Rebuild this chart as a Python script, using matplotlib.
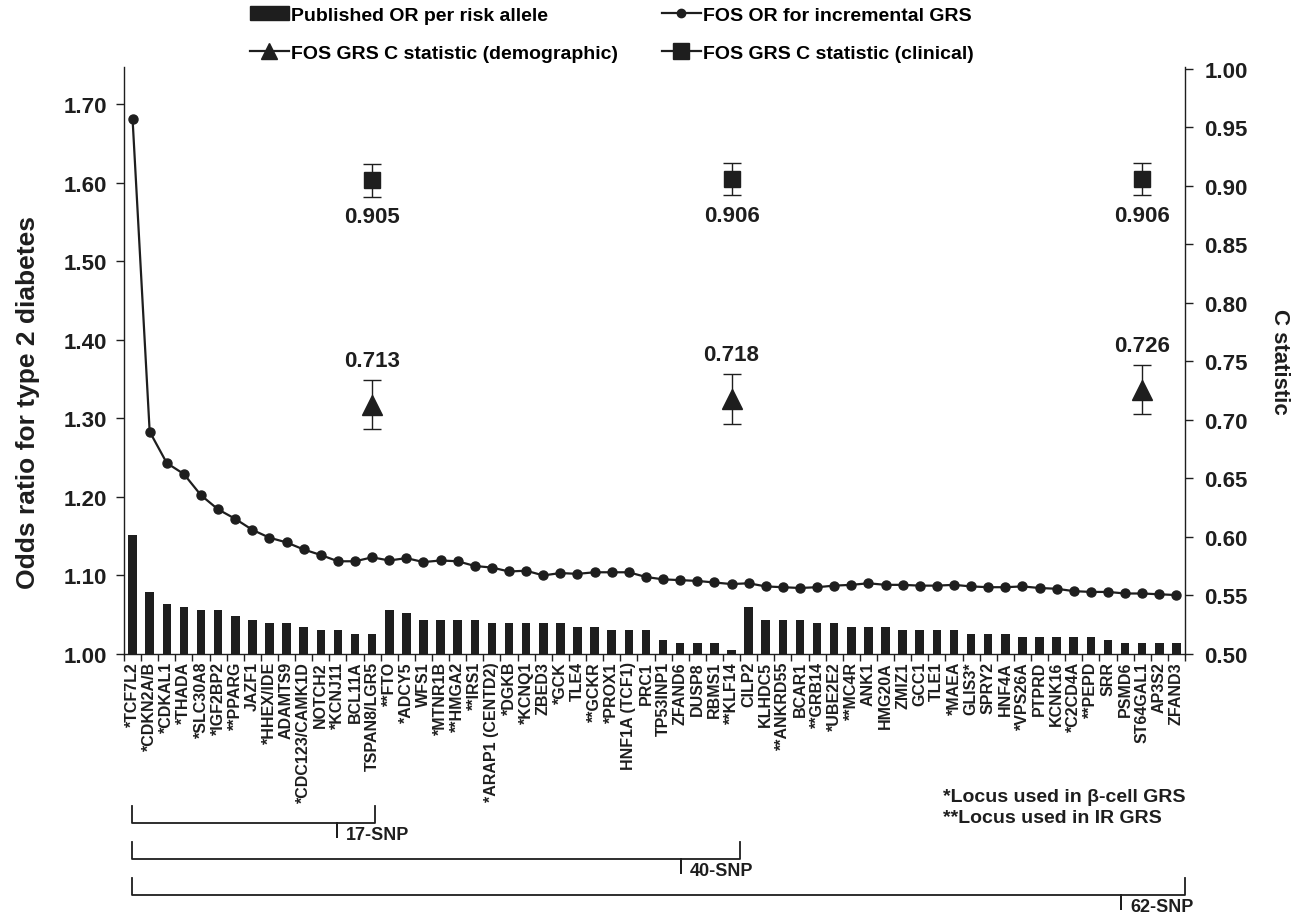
import numpy as np
import matplotlib
matplotlib.use("Agg")
import matplotlib.pyplot as plt
from matplotlib.lines import Line2D
from matplotlib.patches import Patch

plt.rcParams['font.family'] = ['Liberation Sans', 'DejaVu Sans']
plt.rcParams['font.weight'] = 'bold'
INK = '#1e1e1e'

# =========================================================
# DATA - loci ordered by published effect size
loci = ['*TCF7L2', '*CDKN2A/B', '*CDKAL1', '*THADA', '*SLC30A8', '*IGF2BP2', '**PPARG',
        'JAZF1', '*HHEX/IDE', 'ADAMTS9', '*CDC123/CAMK1D', 'NOTCH2', '*KCNJ11', 'BCL11A',
        'TSPAN8/LGR5', '**FTO', '*ADCY5', 'WFS1', '*MTNR1B', '**HMGA2', '**IRS1',
        '*ARAP1 (CENTD2)', '*DGKB', '*KCNQ1', 'ZBED3', '*GCK', 'TLE4', '**GCKR', '*PROX1',
        'HNF1A (TCF1)', 'PRC1', 'TP53INP1', 'ZFAND6', 'DUSP8', 'RBMS1', '**KLF14', 'CILP2',
        'KLHDC5', '**ANKRD55', 'BCAR1', '**GRB14', '*UBE2E2', '**MC4R', 'ANK1', 'HMG20A',
        'ZMIZ1', 'GCC1', 'TLE1', '*MAEA', 'GLIS3*', 'SPRY2', 'HNF4A', '*VPS26A', 'PTPRD',
        'KCNK16', '*C2CD4A', '**PEPD', 'SRR', 'PSMD6', 'ST64GAL1', 'AP3S2', 'ZFAND3']

published_or = [1.151, 1.079, 1.064, 1.060, 1.056, 1.056, 1.048, 1.043, 1.039, 1.039,
                1.034, 1.030, 1.030, 1.026, 1.026, 1.056, 1.052, 1.043, 1.043, 1.043,
                1.043, 1.039, 1.039, 1.039, 1.039, 1.039, 1.034, 1.034, 1.030, 1.030,
                1.030, 1.018, 1.014, 1.014, 1.014, 1.005, 1.060, 1.043, 1.043, 1.043,
                1.039, 1.039, 1.034, 1.034, 1.034, 1.030, 1.030, 1.030, 1.030, 1.026,
                1.026, 1.026, 1.022, 1.022, 1.022, 1.022, 1.022, 1.018, 1.014, 1.014,
                1.014, 1.014]

fos_or = [1.681, 1.283, 1.243, 1.229, 1.202, 1.184, 1.172, 1.158, 1.148, 1.142,
          1.133, 1.126, 1.118, 1.118, 1.123, 1.119, 1.122, 1.117, 1.119, 1.118,
          1.112, 1.110, 1.105, 1.106, 1.100, 1.103, 1.102, 1.104, 1.104, 1.104,
          1.098, 1.095, 1.094, 1.093, 1.091, 1.089, 1.090, 1.086, 1.085, 1.084,
          1.085, 1.087, 1.088, 1.090, 1.088, 1.088, 1.087, 1.087, 1.088, 1.086,
          1.085, 1.085, 1.086, 1.084, 1.083, 1.080, 1.079, 1.079, 1.077, 1.077,
          1.076, 1.075]

# C statistics for the 17-, 40- and 62-SNP scores
c_pos = [14, 35, 59]
c_demo = [0.713, 0.718, 0.726]
c_demo_err = [0.021, 0.021, 0.021]
c_clin = [0.905, 0.906, 0.906]
c_clin_err = [0.014, 0.014, 0.014]

snp_sets = ['17-SNP', '40-SNP', '62-SNP']

# =========================================================
fig = plt.figure(figsize=(13.05, 9.2), dpi=100)
ax = fig.add_axes([124 / 1305, 1 - 655 / 920, (1185 - 124) / 1305, (655 - 68) / 920])
ax2 = ax.twinx()

x = np.arange(len(loci))
ax.bar(x, np.array(published_or) - 1.0, bottom=1.0, width=0.5, color=INK, zorder=2)
ax.plot(x, fos_or, color=INK, lw=1.6, marker='o', ms=6.5, zorder=3)

ax.set_xlim(-0.5, len(loci) - 0.5)
ax.set_ylim(1.0, 1.747)
ax.set_yticks(np.arange(1.0, 1.71, 0.1))
ax.set_yticklabels([f'{v:.2f}' for v in np.arange(1.0, 1.71, 0.1)])
ax.set_xticks(x)
ax.set_xticklabels(loci, rotation=90, fontsize=11.5, fontweight='bold', color=INK)
ax.set_xticks(np.arange(-0.5, len(loci), 1.0), minor=True)
ax.tick_params(axis='x', which='major', length=0, pad=5)
ax.tick_params(axis='x', which='minor', length=5, width=1, color=INK)
ax.tick_params(axis='y', length=6, width=1, color=INK, labelsize=16, labelcolor=INK, pad=6)
ax.set_ylabel('Odds ratio for type 2 diabetes', fontsize=19, fontweight='bold', color=INK)
ax.yaxis.set_label_coords(-0.079, 0.43)

# C statistic markers with error bars on the right axis
ax2.errorbar(c_pos, c_clin, yerr=c_clin_err, fmt='s', ms=12, color=INK, ecolor=INK,
             elinewidth=1, capsize=6.5, capthick=1, zorder=4)
ax2.errorbar(c_pos, c_demo, yerr=c_demo_err, fmt='^', ms=15, color=INK, ecolor=INK,
             elinewidth=1, capsize=6.5, capthick=1, zorder=4)
for p, v in zip(c_pos, c_clin):
    ax2.annotate(f'{v:.3f}', (p, v), xytext=(0, -26), textcoords='offset points',
                 ha='center', va='center', fontsize=16, fontweight='bold', color=INK)
for p, v in zip(c_pos, c_demo):
    ax2.annotate(f'{v:.3f}', (p, v), xytext=(0, 32), textcoords='offset points',
                 ha='center', va='center', fontsize=16, fontweight='bold', color=INK)

ax2.set_ylim(0.5, 1.0017)
ax2.set_yticks(np.arange(0.5, 1.001, 0.05))
ax2.set_yticklabels([f'{v:.2f}' for v in np.arange(0.5, 1.001, 0.05)])
ax2.tick_params(axis='y', length=6, width=1, color=INK, labelsize=16, labelcolor=INK, pad=8)
ax2.set_ylabel('C statistic', fontsize=16, fontweight='bold', color=INK, rotation=270,
               labelpad=30)

for a in (ax, ax2):
    a.spines['top'].set_visible(False)
    for s in a.spines.values():
        s.set_color(INK)
        s.set_linewidth(1)
ax.spines['right'].set_visible(False)
ax2.spines['left'].set_visible(False)
ax2.spines['bottom'].set_visible(False)

# =========================================================
# legend, one entry at a time so each sits where the original puts it
legend_items = [
    (Patch(facecolor=INK, edgecolor=INK), 'Published OR per risk allele', 250, 16),
    (Line2D([], [], color=INK, lw=1.6, marker='o', ms=6), 'FOS OR for incremental GRS', 662, 16),
    (Line2D([], [], color=INK, lw=1.6, marker='^', ms=11), 'FOS GRS C statistic (demographic)', 250, 54),
    (Line2D([], [], color=INK, lw=1.6, marker='s', ms=11), 'FOS GRS C statistic (clinical)', 662, 54),
]
for h, lab, lx, ly in legend_items:
    fig.legend([h], [lab], loc='center left', bbox_to_anchor=(lx / 1305, 1 - ly / 920),
               frameon=False, prop={'size': 14, 'weight': 'bold'}, handlelength=2.0,
               handleheight=0.7, handletextpad=0.12, borderpad=0, borderaxespad=0)

# footnote
fig.text(943 / 1305, 1 - 797 / 920, '*Locus used in \u03b2-cell GRS', fontsize=14,
         fontweight='bold', color=INK, va='center')
fig.text(943 / 1305, 1 - 819 / 920, '**Locus used in IR GRS', fontsize=14,
         fontweight='bold', color=INK, va='center')

# brackets for incremental SNP sets (pixel layout)
brackets = [(132, 375, 337, 824), (132, 740, 681, 860), (132, 1185, 1121, 896)]
for (x0, x1, xp, yb), name in zip(brackets, snp_sets):
    xs = np.array([x0, x0, xp, xp, xp, x1, x1]) / 1305
    ys = 1 - np.array([yb - 17, yb, yb, yb + 14, yb, yb, yb - 17]) / 920
    fig.add_artist(Line2D(xs, ys, color=INK, lw=1.3, solid_joinstyle='round'))
    fig.text((xp + 9) / 1305, 1 - (yb + 12) / 920, name, fontsize=13, fontweight='bold',
             color=INK, va='center', ha='left')

fig.savefig('out.png', dpi=100)
